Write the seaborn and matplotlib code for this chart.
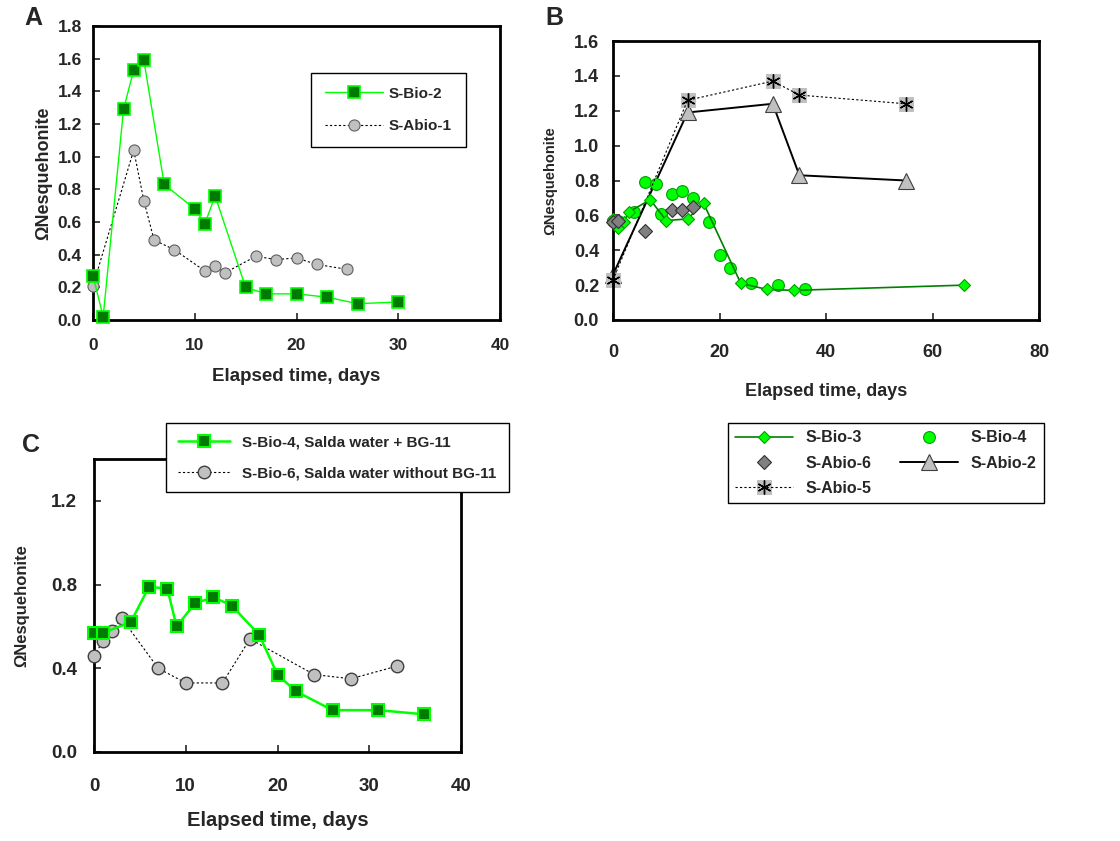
import numpy as np
import pandas as pd
import matplotlib
matplotlib.use('Agg')
import matplotlib.pyplot as plt
import seaborn as sns
from matplotlib.ticker import FormatStrFormatter
from matplotlib.legend_handler import HandlerTuple

# ---- panel A data ----
a_bio2_t = [0, 1, 3, 4, 5, 7, 10, 11, 12, 15, 17, 20, 23, 26, 30]
a_bio2_y = [0.27, 0.02, 1.29, 1.53, 1.59, 0.83, 0.68, 0.59, 0.76, 0.20, 0.16, 0.16, 0.14, 0.10, 0.11]
a_abio1_t = [0, 4, 5, 6, 8, 11, 12, 13, 16, 18, 20, 22, 25]
a_abio1_y = [0.21, 1.04, 0.73, 0.49, 0.43, 0.30, 0.33, 0.29, 0.39, 0.37, 0.38, 0.34, 0.31]

# ---- panel B data ----
b_bio3_t = [0, 1, 2, 3, 7, 10, 14, 17, 24, 29, 34, 66]
b_bio3_y = [0.58, 0.53, 0.56, 0.62, 0.69, 0.57, 0.58, 0.67, 0.21, 0.175, 0.17, 0.20]
b_bio4_t = [0, 1, 4, 6, 8, 9, 11, 13, 15, 18, 20, 22, 26, 31, 36]
b_bio4_y = [0.57, 0.57, 0.62, 0.79, 0.78, 0.61, 0.72, 0.74, 0.70, 0.56, 0.37, 0.30, 0.21, 0.20, 0.18]
b_abio6_t = [0, 1, 6, 11, 13, 15]
b_abio6_y = [0.56, 0.57, 0.51, 0.63, 0.63, 0.65]
b_abio2_t = [0, 14, 30, 35, 55]
b_abio2_y = [0.26, 1.19, 1.24, 0.83, 0.80]
b_abio5_t = [0, 14, 30, 35, 55]
b_abio5_y = [0.23, 1.26, 1.37, 1.29, 1.24]

# ---- panel C data ----
c_bio4_t = [0, 1, 4, 6, 8, 9, 11, 13, 15, 18, 20, 22, 26, 31, 36]
c_bio4_y = [0.57, 0.57, 0.62, 0.79, 0.78, 0.60, 0.71, 0.74, 0.70, 0.56, 0.37, 0.29, 0.20, 0.20, 0.18]
c_bio6_t = [0, 1, 2, 3, 7, 10, 14, 17, 24, 28, 33]
c_bio6_y = [0.46, 0.53, 0.58, 0.64, 0.40, 0.33, 0.33, 0.54, 0.37, 0.35, 0.41]

sns.set_style('ticks')
plt.rcParams['font.family'] = ['Liberation Sans', 'DejaVu Sans']
plt.rcParams['font.weight'] = 'bold'

LIME = '#00ff00'
DKGREEN = '#007a00'
GRAY = '#c0c0c0'

W, H = 1120, 841
fig = plt.figure(figsize=(11.2, 8.41), dpi=100)


def px_axes(l, t, r, b):
    return fig.add_axes([l / W, 1 - b / H, (r - l) / W, (b - t) / H])


def line(ax, t, y, **kw):
    kw.setdefault('linewidth', 1)
    sns.lineplot(x=t, y=y, ax=ax, errorbar=None, legend=False, clip_on=False, **kw)
    return ax.lines[-1]


def style_axes(ax, xmax, xstep, ymax, ystep, tsize, xpad, ypad):
    ax.set_xlim(0, xmax)
    ax.set_ylim(0, ymax)
    ax.set_xticks(np.arange(0, xmax + 0.1, xstep))
    ax.set_yticks(np.arange(0, ymax + 0.01, ystep))
    ax.yaxis.set_major_formatter(FormatStrFormatter('%.1f'))
    ax.tick_params(axis='x', direction='in', length=5, width=1.2, pad=xpad, labelsize=tsize)
    ax.tick_params(axis='y', direction='in', length=5, width=1.2, pad=ypad, labelsize=tsize)
    for lab in ax.get_xticklabels() + ax.get_yticklabels():
        lab.set_fontweight('bold')
    for s in ax.spines.values():
        s.set_visible(True)
        s.set_linewidth(2)
        s.set_color('black')


# ================= A =================
axA = px_axes(93, 26, 500, 320)
hA1 = line(axA, a_bio2_t, a_bio2_y, color=LIME, marker='s', markersize=8,
           markerfacecolor=DKGREEN, markeredgecolor=LIME, markeredgewidth=1.2, zorder=4)
hA2 = line(axA, a_abio1_t, a_abio1_y, color='black', linestyle=(0, (2, 2)), linewidth=0.8,
           marker='o', markersize=8, markerfacecolor=GRAY, markeredgecolor='#606060',
           markeredgewidth=0.8, zorder=3)
style_axes(axA, 40, 10, 1.8, 0.2, 12.5, 13, 8)
axA.set_xlabel('Elapsed time, days', fontsize=13.5, fontweight='bold', labelpad=11)
axA.set_ylabel('ΩNesquehonite', fontsize=13, fontweight='bold', labelpad=4)
legA = axA.legend([hA1, hA2], ['S-Bio-2', 'S-Abio-1'], loc='upper left',
                  bbox_to_anchor=(311 / W, 1 - 73 / H), bbox_transform=fig.transFigure,
                  frameon=True, fancybox=False, edgecolor='black', framealpha=1,
                  prop={'size': 11, 'weight': 'bold'}, handlelength=3.8,
                  borderpad=0.9, labelspacing=1.2, borderaxespad=0, handletextpad=0.4)
legA.get_frame().set_linewidth(1)
fig.text(24 / W, 1 - 18 / H, 'A', fontsize=18, fontweight='bold', va='center', ha='left')

# ================= B =================
axB = px_axes(613, 41, 1039, 320)
hB1 = line(axB, b_bio3_t, b_bio3_y, color='#008000', linewidth=1.2, marker='D', markersize=6.5,
           markerfacecolor=LIME, markeredgecolor='#00a000', markeredgewidth=0.8, zorder=4)
hB2 = line(axB, b_bio4_t, b_bio4_y, color=LIME, linestyle='', marker='o', markersize=8.5,
           markerfacecolor=LIME, markeredgecolor='#00a000', markeredgewidth=0.8, zorder=3)
hB3 = line(axB, b_abio6_t, b_abio6_y, color='#707070', linestyle='', marker='D', markersize=7,
           markerfacecolor='#808080', markeredgecolor='#303030', markeredgewidth=0.8, zorder=5)
hB4 = line(axB, b_abio2_t, b_abio2_y, color='black', linewidth=1.4, marker='^', markersize=11,
           markerfacecolor=GRAY, markeredgecolor='#404040', markeredgewidth=0.8, zorder=2)
hB5a = line(axB, b_abio5_t, b_abio5_y, color=GRAY, linestyle='', marker='s', markersize=10,
            markerfacecolor=GRAY, markeredgecolor=GRAY, zorder=2)
hB5b = line(axB, b_abio5_t, b_abio5_y, color='black', linestyle=(0, (2, 2)), linewidth=0.8,
            marker=(6, 2, 0), markersize=10, markeredgecolor='black', markeredgewidth=1, zorder=3)
style_axes(axB, 80, 20, 1.6, 0.2, 13, 17, 10)
axB.set_xlabel('Elapsed time, days', fontsize=13, fontweight='bold', labelpad=16)
axB.set_ylabel('ΩNesquehonite', fontsize=10.5, fontweight='bold', labelpad=12)
legB = axB.legend([hB1, hB3, (hB5a, hB5b), hB2, hB4],
                  ['S-Bio-3', 'S-Abio-6', 'S-Abio-5', 'S-Bio-4', 'S-Abio-2'],
                  handler_map={tuple: HandlerTuple(ndivide=1)},
                  ncol=2, loc='upper left',
                  bbox_to_anchor=(728 / W, 1 - 423 / H), bbox_transform=fig.transFigure,
                  frameon=True, fancybox=False, edgecolor='black', framealpha=1,
                  prop={'size': 11.5, 'weight': 'bold'}, handlelength=3.6,
                  borderpad=0.45, labelspacing=0.65, columnspacing=1.8, borderaxespad=0)
legB.get_frame().set_linewidth(1)
fig.text(545 / W, 1 - 18 / H, 'B', fontsize=18, fontweight='bold', va='center', ha='left')

# ================= C =================
axC = px_axes(94, 459, 461, 752)
hC1 = line(axC, c_bio4_t, c_bio4_y, color=LIME, linewidth=1.8, marker='s', markersize=9,
           markerfacecolor=DKGREEN, markeredgecolor=LIME, markeredgewidth=1.5, zorder=4)
hC2 = line(axC, c_bio6_t, c_bio6_y, color='black', linestyle=(0, (2, 2)), linewidth=0.8,
           marker='o', markersize=9, markerfacecolor=GRAY, markeredgecolor='#404040',
           markeredgewidth=1, zorder=3)
style_axes(axC, 40, 10, 1.4, 0.4, 13.5, 19, 12)
axC.set_yticks([0, 0.4, 0.8, 1.2])
axC.set_xlabel('Elapsed time, days', fontsize=14.5, fontweight='bold', labelpad=11)
axC.set_ylabel('ΩNesquehonite', fontsize=12, fontweight='bold', labelpad=16)
legC = axC.legend([hC1, hC2], ['S-Bio-4, Salda water + BG-11', 'S-Bio-6, Salda water without BG-11'],
                  loc='upper left',
                  bbox_to_anchor=(166 / W, 1 - 423 / H), bbox_transform=fig.transFigure,
                  frameon=True, fancybox=False, edgecolor='black', framealpha=1,
                  prop={'size': 11, 'weight': 'bold'}, handlelength=3.4,
                  borderpad=0.8, labelspacing=1.1, borderaxespad=0)
legC.get_frame().set_linewidth(1)
legC.set_zorder(10)
fig.text(22 / W, 1 - 445 / H, 'C', fontsize=18, fontweight='bold', va='center', ha='left')

plt.savefig('out.png', dpi=100)
plt.close()
